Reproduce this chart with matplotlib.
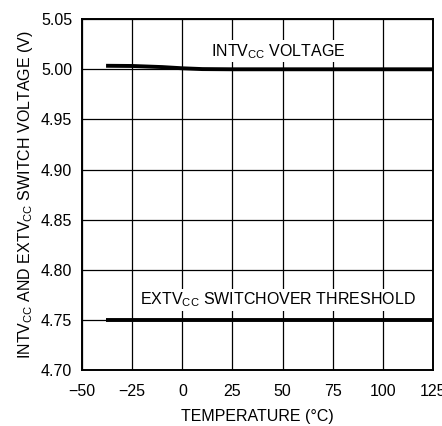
import matplotlib
matplotlib.use("Agg")
import matplotlib.pyplot as plt
from matplotlib import font_manager

fams = {f.name for f in font_manager.fontManager.ttflist}
fam = "Liberation Sans Narrow" if "Liberation Sans Narrow" in fams else "Liberation Sans"
plt.rcParams['font.family'] = [fam, 'DejaVu Sans']
plt.rcParams['mathtext.fontset'] = 'custom'
plt.rcParams['mathtext.rm'] = fam
plt.rcParams['mathtext.it'] = fam

intv_temp = [-38, -25, -10, 0, 10, 25, 50, 75, 100, 125]
intv_volt = [5.0035, 5.0033, 5.0022, 5.0010, 5.0002, 5.0, 5.0, 5.0, 5.0, 5.0]
extv_temp = [-38, -25, 0, 25, 50, 75, 100, 125]
extv_volt = [4.75, 4.75, 4.75, 4.75, 4.75, 4.75, 4.75, 4.75]
xticks = [-50, -25, 0, 25, 50, 75, 100, 125]
xticklabels = ["\u221250", "\u221225", "0", "25", "50", "75", "100", "125"]
yticks = [4.70, 4.75, 4.80, 4.85, 4.90, 4.95, 5.00, 5.05]

fs = 11.5
fig = plt.figure(figsize=(4.42, 4.26), dpi=100)
ax = fig.add_axes([0.1855, 0.1315, 0.7945, 0.8235])
ax.plot(intv_temp, intv_volt, color='black', lw=2.8, solid_capstyle='butt')
ax.plot(extv_temp, extv_volt, color='black', lw=2.8, solid_capstyle='butt')
ax.set_xlim(-50, 125)
ax.set_ylim(4.70, 5.05)
ax.set_xticks(xticks)
ax.set_xticklabels(xticklabels)
ax.set_yticks(yticks)
ax.set_yticklabels([f"{v:.2f}" for v in yticks])
ax.grid(True, color='black', lw=0.9)
ax.tick_params(axis='x', length=0, labelsize=fs, pad=10)
ax.tick_params(axis='y', length=0, labelsize=fs, pad=7)
for s in ax.spines.values():
    s.set_linewidth(1.4)
ax.set_xlabel("TEMPERATURE (\u00b0C)", fontsize=fs, labelpad=7)
ax.set_ylabel("INTV$_{\\mathrm{CC}}$ AND EXTV$_{\\mathrm{CC}}$ SWITCH VOLTAGE (V)", fontsize=fs, labelpad=4)
ax.text(47.7, 5.018, "INTV$_{\\mathrm{CC}}$ VOLTAGE", fontsize=fs, ha='center', va='center',
        bbox=dict(facecolor='white', edgecolor='none', pad=1))
ax.text(47.7, 4.77, "EXTV$_{\\mathrm{CC}}$ SWITCHOVER THRESHOLD", fontsize=fs, ha='center', va='center',
        bbox=dict(facecolor='white', edgecolor='none', pad=1))
fig.savefig("out.png", dpi=100)
